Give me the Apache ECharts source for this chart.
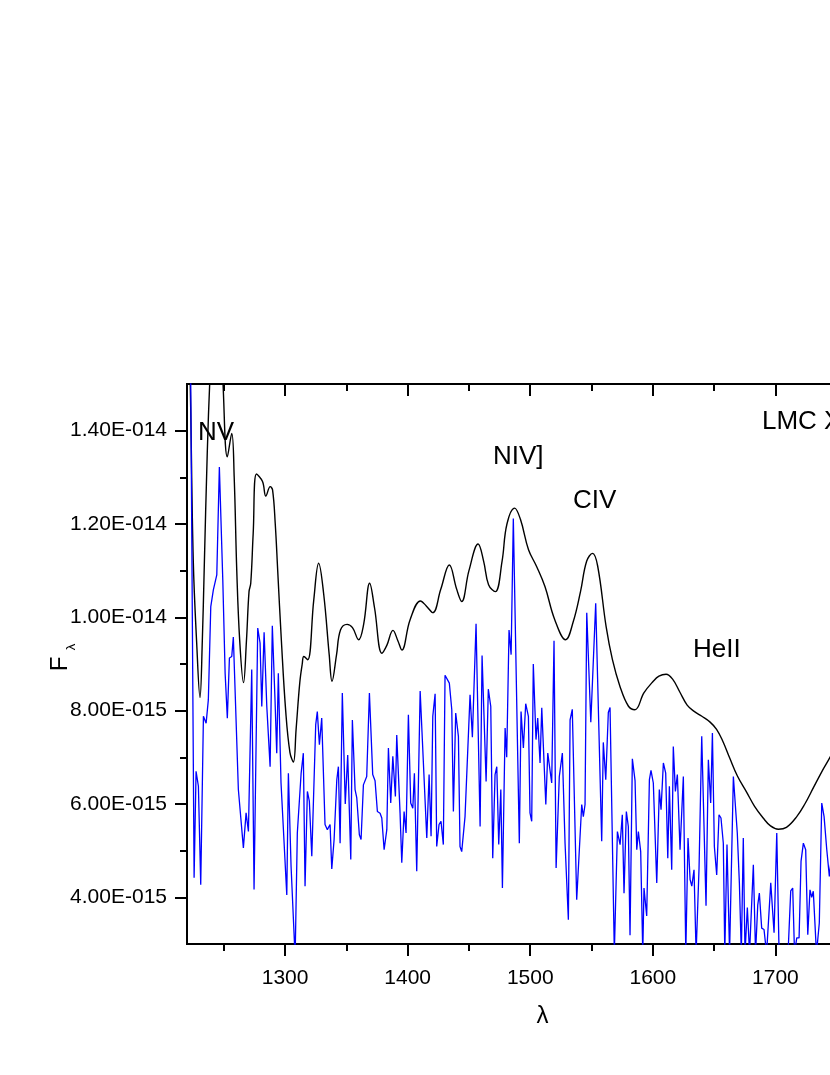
<!DOCTYPE html>
<html>
<head>
<meta charset="utf-8">
<script src="https://cdn.jsdelivr.net/npm/echarts@6/dist/echarts.min.js"></script>
<style>
html,body{margin:0;padding:0;background:#fff;}
#chart{width:830px;height:1075px;}
</style>
</head>
<body>
<div id="chart"></div>
<script>
// Flux values are in units of 1e-15 (erg/s/cm2/A), wavelength in Angstrom
const FLUX_UNIT = 1e-15;

// Smooth (model) spectrum - black
const modelWave = [1221.5,1223,1225.1,1227.9,1230.6,1232.5,1234,1236.5,1238.8,1243,1246.5,1249.4,1252.9,1256.5,1258.5,1260.6,1263,1266.1,1268.5,1270.6,1272,1274,1276.7,1281.6,1284.3,1287.9,1289.8,1292,1294,1297,1300.5,1304,1306.8,1309,1312,1314,1315.3,1318.5,1323.4,1327.4,1331.5,1336,1338.3,1342,1345.2,1350.6,1355,1360,1364.1,1369,1373,1379,1383,1388,1392,1395.3,1402,1410.5,1415,1420.5,1427,1434,1440,1444.1,1450,1457.5,1462,1466,1471.5,1477,1481,1487.3,1492,1498.6,1505,1512,1520,1528.9,1535,1541,1546,1550.8,1555,1561.9,1567,1573.2,1580,1585.4,1592.7,1600,1605,1610.8,1616,1622,1628,1634,1640,1646.5,1652,1657,1662.8,1669,1676.6,1683,1690,1696,1702.4,1709,1717.4,1724,1731,1738,1744.5,1752];
const modelFlux = [16.5,14.5,11.23,9.45,8.28,9.5,11.0,13.5,15.2,17.5,16.8,15,13.44,13.94,13.0,11.0,9.5,8.6,9.5,10.55,10.73,11.8,13.07,12.91,12.6,12.8,12.73,12.0,11.0,9.5,8.0,7.1,6.9,7.6,8.6,9.0,9.16,9.09,10.37,11.16,10.5,9.2,8.63,9.2,9.73,9.85,9.78,9.52,9.85,10.73,10.2,9.23,9.4,9.72,9.5,9.3,9.95,10.35,10.25,10.1,10.6,11.12,10.6,10.34,11.0,11.57,11.2,10.7,10.55,11.2,12.0,12.34,12.1,11.45,11.1,10.66,9.95,9.52,9.9,10.55,11.2,11.37,11.1,9.8,9.1,8.52,8.1,8.02,8.38,8.62,8.74,8.78,8.68,8.4,8.12,7.98,7.88,7.76,7.6,7.35,6.98,6.6,6.25,5.95,5.7,5.53,5.46,5.5,5.73,6.0,6.35,6.7,7.0,7.4];

// Observed spectrum - blue
const obsWave = [1222.8,1225.8,1227.4,1229.3,1231.2,1233.4,1235.6,1237.4,1239.4,1241.5,1244.3,1246.4,1249.2,1251.1,1252.9,1254.6,1256.5,1257.8,1261.9,1263.3,1266.0,1268.2,1270.1,1272.8,1274.7,1277.7,1279.6,1281.0,1282.9,1285.1,1286.4,1287.8,1289.6,1291.8,1293.2,1294.5,1296.7,1301.4,1302.7,1304.9,1308.2,1310.0,1311.4,1313.1,1314.9,1316.3,1318.2,1319.8,1321.8,1325.0,1326.3,1328.0,1329.9,1332.6,1334.5,1336.7,1338.1,1340.0,1342.2,1343.5,1344.9,1346.7,1349.1,1351.1,1353.6,1354.9,1357.1,1358.5,1360.6,1362.0,1363.9,1366.6,1368.8,1371.5,1373.4,1375.3,1377.5,1378.9,1380.8,1383.0,1384.3,1386.2,1387.9,1390.0,1391.1,1393.8,1395.2,1397.1,1398.7,1400.6,1402.5,1404.2,1405.5,1407.4,1410.2,1415.6,1417.5,1419.1,1420.5,1422.4,1423.7,1425.6,1427.2,1429.1,1430.5,1434.0,1436.0,1437.3,1439.2,1441.4,1442.7,1444.1,1446.8,1450.9,1452.8,1454.2,1455.8,1459.1,1460.7,1464.0,1465.8,1467.8,1469.4,1471.3,1472.7,1474.3,1476.0,1477.3,1479.5,1480.8,1482.7,1484.4,1486.2,1491.1,1492.5,1494.4,1496.3,1498.5,1499.8,1501.2,1502.5,1504.7,1506.1,1508.0,1509.4,1512.7,1514.3,1517.5,1519.4,1521.1,1523.7,1526.2,1528.4,1531.1,1532.5,1534.3,1537.9,1542.0,1543.3,1544.7,1546.1,1549.4,1553.4,1558.3,1559.6,1561.6,1563.7,1565.1,1568.6,1571.1,1573.3,1575.1,1576.5,1578.4,1580.0,1581.4,1583.3,1585.5,1586.9,1588.2,1590.1,1591.8,1592.8,1595.0,1597.2,1598.5,1600.4,1603.2,1605.3,1606.7,1608.6,1610.5,1612.2,1613.5,1615.4,1616.7,1618.4,1620.0,1622.2,1624.9,1626.9,1628.7,1630.4,1631.8,1633.6,1635.3,1637.7,1639.9,1643.4,1645.3,1647.2,1648.6,1650.2,1652.1,1654.0,1655.6,1657.5,1658.7,1660.5,1662.6,1665.7,1667.1,1668.9,1670.6,1672.2,1673.8,1675.2,1677.1,1678.9,1682.0,1683.8,1685.6,1686.9,1688.8,1690.7,1692.8,1696.2,1697.5,1698.9,1701.1,1703.0,1710.3,1712.5,1714.1,1715.6,1717.4,1719.3,1720.9,1722.8,1724.7,1726.4,1728.2,1729.6,1730.9,1733.5,1735.8,1737.8,1739.7,1741.9,1744.0,1746.2];
const obsFlux = [16.0,4.42,6.70,6.38,4.27,7.88,7.73,8.23,10.23,10.59,10.91,13.22,10.8,8.80,7.84,9.13,9.16,9.58,6.31,6.27,5.06,5.81,5.41,8.88,4.17,9.77,9.45,8.09,9.68,8.09,8.09,6.80,9.82,8.23,7.09,8.80,6.45,4.05,6.66,4.66,2.7,5.38,5.41,6.66,7.09,4.24,6.27,6.06,4.88,7.70,7.98,7.27,7.84,5.56,5.45,5.56,4.61,5.24,6.52,6.80,5.16,8.38,6.0,7.05,4.81,7.8,6.31,6.13,5.34,5.24,6.41,6.59,8.38,6.63,6.5,5.84,5.8,5.70,5.02,5.45,7.2,6.02,7.02,6.16,7.48,5.81,4.74,5.84,5.38,7.91,6.02,5.91,6.66,4.56,8.42,5.27,6.63,5.31,7.88,8.36,5.09,5.56,5.63,5.13,8.76,8.59,8.02,5.84,7.95,7.45,5.09,4.98,5.73,8.34,7.43,7.43,9.86,5.52,9.18,6.48,8.46,8.09,4.84,6.63,6.8,5.13,6.31,4.2,7.63,7.0,9.73,9.2,12.12,5.16,7.98,7.2,8.15,7.88,5.81,5.63,9.0,7.38,7.84,6.88,8.06,5.99,7.09,6.45,9.5,4.63,6.59,7.09,5.16,3.52,7.8,8.03,3.95,5.99,5.73,5.99,10.1,7.75,10.3,5.2,7.32,6.52,7.96,8.07,2.8,5.41,5.13,5.77,4.09,5.84,5.52,3.19,6.97,6.5,5.02,5.41,4.98,2.8,4.2,3.6,6.52,6.72,6.45,4.31,6.31,5.88,6.88,6.66,4.84,6.38,4.59,7.23,6.27,6.63,5.02,6.59,2.8,5.27,4.38,4.24,4.59,2.8,4.63,7.45,3.82,6.95,6.02,7.52,5.09,4.48,5.77,5.70,5.16,2.8,5.13,2.8,6.59,6.59,5.38,4.31,2.8,5.27,2.8,3.78,2.8,4.70,2.8,3.84,4.09,3.34,3.31,2.8,4.31,4.34,3.24,5.38,2.8,2.8,4.14,4.2,2.8,3.13,3.13,4.77,5.16,5.02,3.2,4.16,4.0,4.13,2.8,3.45,6.02,5.73,5.02,4.45,5.0];

// Axis ticks
const xMajorTicks = [1300,1400,1500,1600,1700,1800];
const xMinorTicks = [1250,1350,1450,1550,1650,1750];
const yMajorTicks = [4,6,8,10,12,14];
const yMinorTicks = [5,7,9,11,13];
const yTickLabels = ['4.00E-015','6.00E-015','8.00E-015','1.00E-014','1.20E-014','1.40E-014'];

// Line labels
const lineLabels = [
  {text:'NV', x:198, y:433},
  {text:'NIV]', x:493, y:457},
  {text:'CIV', x:573, y:501},
  {text:'HeII', x:693, y:650},
  {text:'LMC X-2', x:762, y:422}
];

const FONT = '"Liberation Sans", Arial, sans-serif';
const chart = echarts.init(document.getElementById('chart'), null, {renderer:'canvas'});

const X_MIN = 1220, X_MAX = 1800, Y_MIN = 3, Y_MAX = 15;
const axisLineStyle = {color:'#000', width:2};

function xAxisDef(pos, ticks, len, inside, labels) {
  return {
    type:'value', position:pos, min:X_MIN, max:X_MAX, gridIndex:0,
    axisLine:{show:true, onZero:false, lineStyle:axisLineStyle},
    axisTick:{show:true, customValues:ticks, length:len, inside:inside, lineStyle:{color:'#000', width:2}},
    axisLabel:labels ? {show:true, customValues:ticks, color:'#000', fontSize:21, fontFamily:FONT, margin:24,
      formatter:function(v){ return String(Math.round(v)); }} : {show:false},
    splitLine:{show:false}
  };
}
function yAxisDef(ticks, len, labels) {
  return {
    type:'value', position:'left', min:Y_MIN, max:Y_MAX, gridIndex:0,
    axisLine:{show:true, onZero:false, lineStyle:axisLineStyle},
    axisTick:{show:true, customValues:ticks, length:len, inside:false, lineStyle:{color:'#000', width:2}},
    axisLabel:labels ? {show:true, customValues:ticks, color:'#000', fontSize:21, fontFamily:FONT, margin:20,
      formatter:function(v){ const i = yMajorTicks.indexOf(Math.round(v)); return i>=0 ? yTickLabels[i] : ''; }} : {show:false},
    splitLine:{show:false}
  };
}

const xMain = xAxisDef('bottom', xMajorTicks, 12, false, true);
xMain.name = 'λ';
xMain.nameLocation = 'middle';
xMain.nameGap = 60;
xMain.nameTextStyle = {color:'#000', fontSize:24, fontFamily:FONT};

const option = {
  backgroundColor:'#fff',
  animation:false,
  grid:{left:187, top:384, width:711, height:560, containLabel:false, outerBoundsMode:'none'},
  xAxis:[
    xMain,
    xAxisDef('bottom', xMinorTicks, 7, false, false),
    xAxisDef('top', xMajorTicks, 12, true, false),
    xAxisDef('top', xMinorTicks, 7, true, false)
  ],
  yAxis:[
    yAxisDef(yMajorTicks, 12, true),
    yAxisDef(yMinorTicks, 7, false)
  ],
  series:[
    {
      type:'line', name:'model', xAxisIndex:0, yAxisIndex:0,
      data: modelWave.map((w,i)=>[w, modelFlux[i]]),
      showSymbol:false, symbol:'none', smooth:0.4, clip:true,
      lineStyle:{color:'#000', width:1.4}
    },
    {
      type:'line', name:'observed', xAxisIndex:0, yAxisIndex:0,
      data: obsWave.map((w,i)=>[w, obsFlux[i]]),
      showSymbol:false, symbol:'none', smooth:false, clip:true,
      lineStyle:{color:'#0000ff', width:1.3}
    }
  ],
  graphic:[
    ...lineLabels.map(l => ({
      type:'text', x:l.x, y:l.y, z:100,
      style:{text:l.text, fill:'#000', font:'26px ' + FONT, textAlign:'left', textVerticalAlign:'middle'}
    })),
    {type:'text', x:60, y:664, rotation:Math.PI/2, z:100,
      style:{text:'F', fill:'#000', font:'24px ' + FONT, textAlign:'center', textVerticalAlign:'middle'}},
    {type:'text', x:71, y:647, rotation:Math.PI/2, z:100,
      style:{text:'λ', fill:'#000', font:'13px ' + FONT, textAlign:'center', textVerticalAlign:'middle'}}
  ]
};
chart.setOption(option);
</script>
</body>
</html>
